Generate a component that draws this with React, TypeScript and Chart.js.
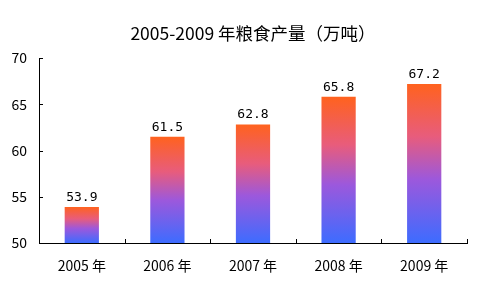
import React, { useEffect, useRef } from "react";
import { Chart, registerables } from "chart.js";

Chart.register(...registerables);

const categories = ["2005 年", "2006 年", "2007 年", "2008 年", "2009 年"];
const production = [53.9, 61.5, 62.8, 65.8, 67.2];
const yTicks = [50, 55, 60, 65, 70];
const titleText = "2005-2009 年粮食产量（万吨）";

const CJK = '"Noto Sans CJK SC", sans-serif';

export default function App() {
  const ref = useRef<HTMLCanvasElement | null>(null);

  useEffect(() => {
    document.body.style.margin = "0";
    const canvas = ref.current!;
    const valueLabels = {
      id: "valueLabels",
      afterDatasetsDraw(chart: any) {
        const ctx = chart.ctx;
        const meta = chart.getDatasetMeta(0);
        ctx.save();
        ctx.font = '13px "DejaVu Sans Mono", monospace';
        ctx.fillStyle = "#000";
        ctx.textAlign = "center";
        ctx.textBaseline = "bottom";
        meta.data.forEach((el: any, i: number) => {
          ctx.fillText(production[i].toFixed(1), el.x, el.y - 3);
        });
        ctx.restore();
      },
    };
    const titleDraw = {
      id: "titleDraw",
      afterDraw(chart: any) {
        const ctx = chart.ctx;
        ctx.save();
        ctx.font = `17.5px ${CJK}`;
        ctx.fillStyle = "#000";
        ctx.textAlign = "center";
        ctx.textBaseline = "middle";
        ctx.fillText(titleText, 253, 33);
        ctx.restore();
      },
    };
    const axisTicks = {
      id: "axisTicks",
      afterDraw(chart: any) {
        const ctx = chart.ctx;
        const y = chart.scales.y;
        const area = chart.chartArea;
        ctx.save();
        ctx.strokeStyle = "#000";
        ctx.lineWidth = 1;
        ctx.beginPath();
        y.ticks.forEach((t: any) => {
          const py = Math.round(y.getPixelForValue(t.value)) + 0.5;
          ctx.moveTo(area.left, py);
          ctx.lineTo(area.left + 4, py);
        });
        const n = categories.length;
        const w = (area.right - area.left) / n;
        for (let i = 1; i <= n; i++) {
          const px = Math.round(area.left + w * i) + 0.5;
          ctx.moveTo(px, area.bottom);
          ctx.lineTo(px, area.bottom - 4);
        }
        ctx.stroke();
        ctx.restore();
      },
    };

    const chart = new Chart(canvas, {
      type: "bar",
      data: {
        labels: categories,
        datasets: [
          {
            data: production,
            backgroundColor: (c: any) => {
              const ch = c.chart;
              const area = ch.chartArea;
              if (!area || c.dataIndex === undefined) return "#7a5ae0";
              const ys = ch.scales.y;
              const v = c.dataset.data[c.dataIndex];
              const top = ys.getPixelForValue(v);
              const bottom = ys.getPixelForValue(ys.min);
              const g = ch.ctx.createLinearGradient(0, top, 0, bottom);
              g.addColorStop(0, "#ff621e");
              g.addColorStop(0.33, "#e85c7c");
              g.addColorStop(0.6, "#9c58dc");
              g.addColorStop(1, "#3d6cff");
              return g;
            },
            borderWidth: 0,
            barPercentage: 0.4,
            categoryPercentage: 1,
          },
        ],
      },
      options: {
        animation: false,
        responsive: false,
        maintainAspectRatio: false,
        layout: { padding: { left: 0, right: 13, top: 58, bottom: 0 } },
        plugins: {
          legend: { display: false },
          tooltip: { enabled: false },
          title: { display: false },
        },
        scales: {
          x: {
            grid: { display: false, drawTicks: false },
            border: { display: true, color: "#000", width: 1 },
            ticks: {
              color: "#000",
              font: { family: CJK, size: 14 },
              padding: 14,
            },
            afterFit: (s: any) => {
              s.height = 51;
            },
          },
          y: {
            min: 50,
            max: 70,
            afterBuildTicks: (s: any) => {
              s.ticks = yTicks.map((v) => ({ value: v }));
            },
            grid: { display: false, drawTicks: false },
            border: { display: true, color: "#000", width: 1 },
            ticks: {
              color: "#000",
              font: { family: CJK, size: 14 },
              padding: 12,
            },
            afterFit: (s: any) => {
              s.width = 39;
            },
          },
        },
      },
      plugins: [valueLabels, axisTicks, titleDraw],
    });
    return () => chart.destroy();
  }, []);

  return (
    <div style={{ position: "absolute", left: 0, top: 0, width: 480, height: 294, background: "#fff" }}>
      <canvas ref={ref} width={480} height={294} style={{ display: "block" }} />
    </div>
  );
}
